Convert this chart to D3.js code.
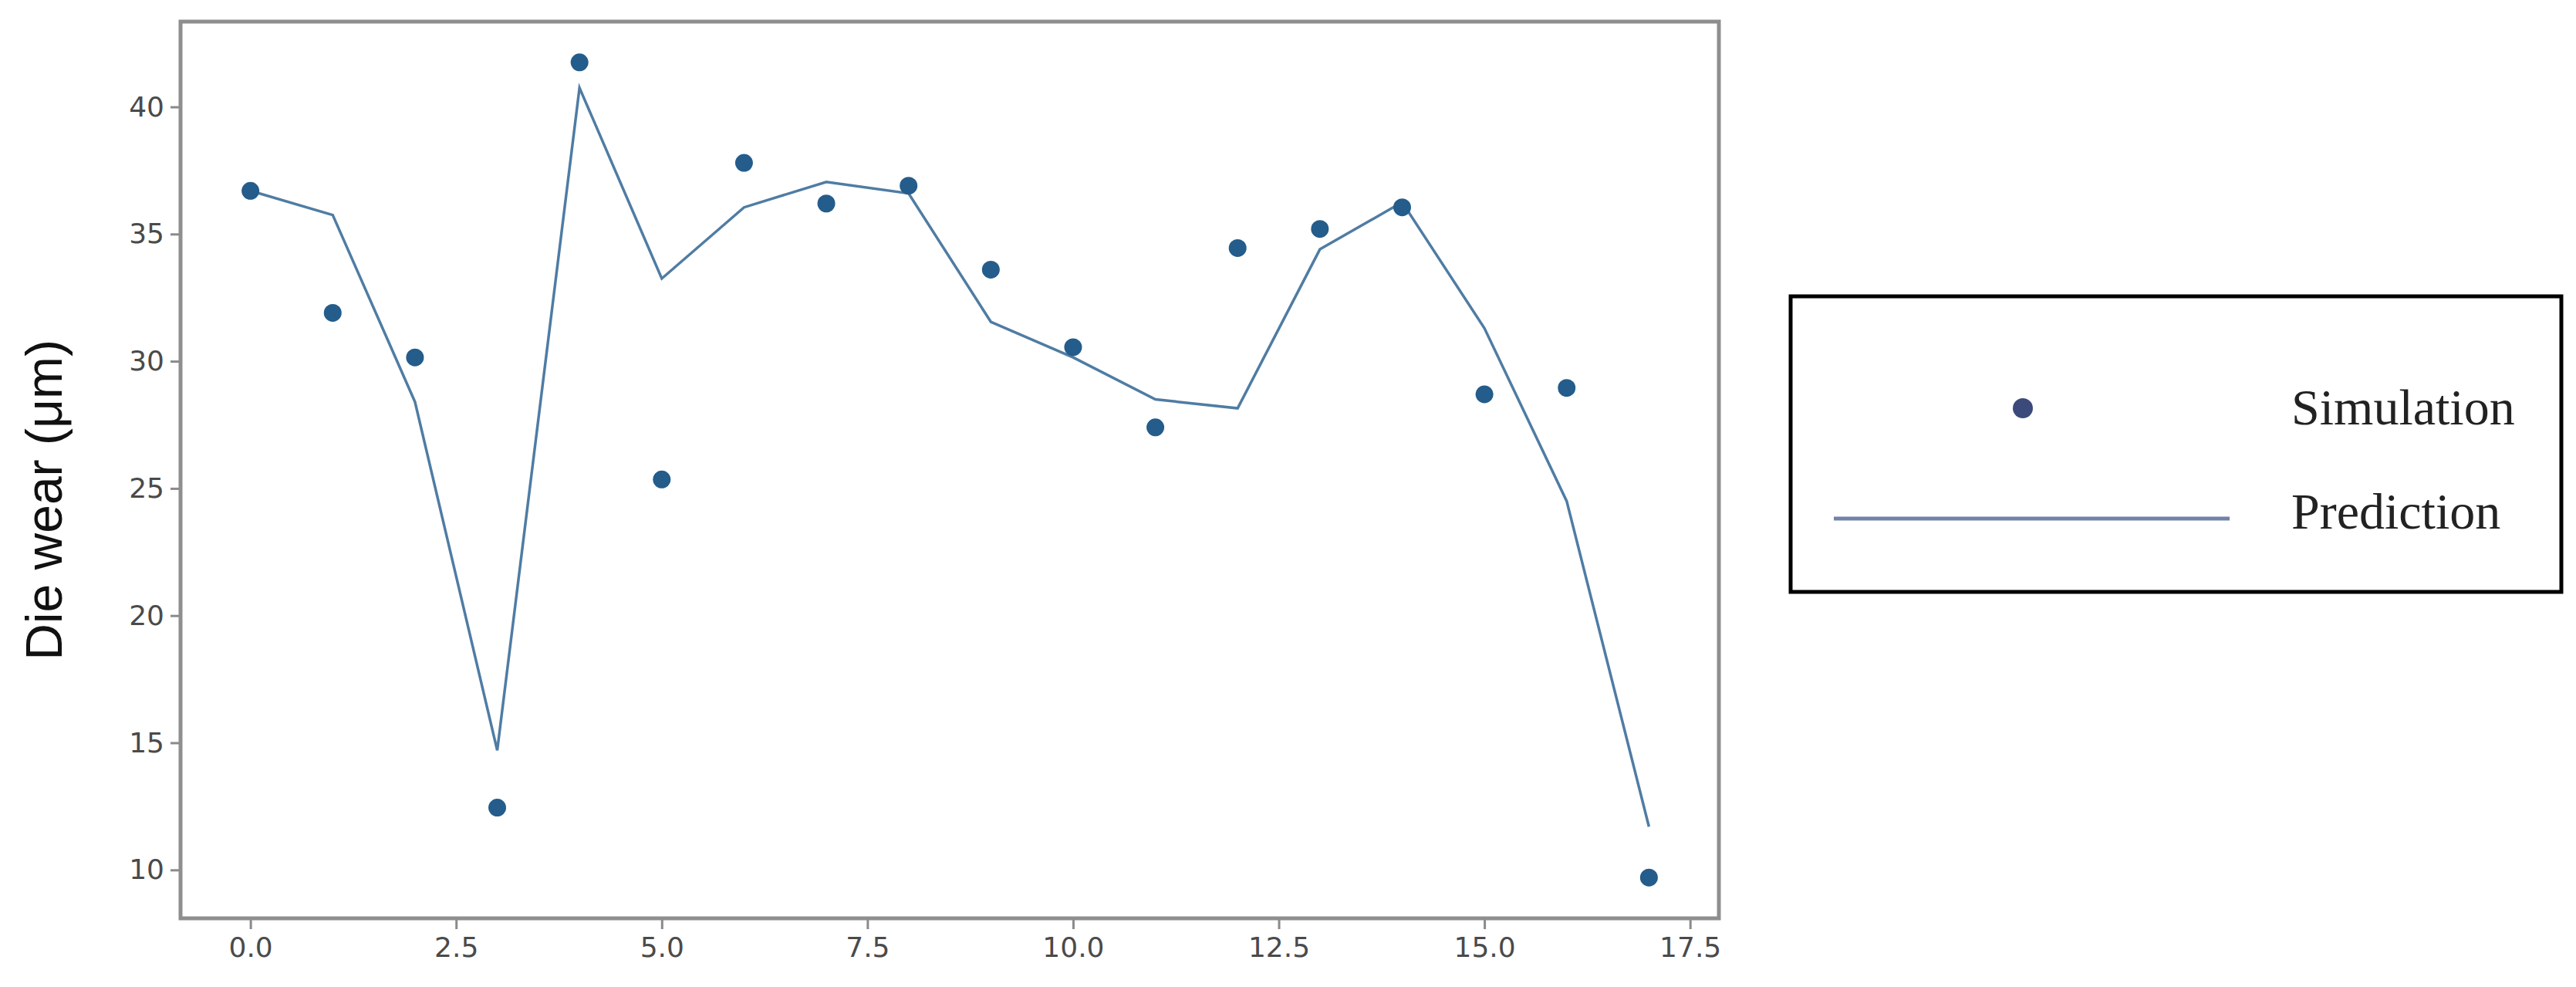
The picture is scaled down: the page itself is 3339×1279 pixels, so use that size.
<!DOCTYPE html>
<html>
<head>
<meta charset="utf-8">
<script src="https://cdn.jsdelivr.net/npm/d3@7"></script>
<style>
  body { margin: 0; background: #fff; }
  svg { display: block; }
</style>
</head>
<body>
<div id="chart"></div>
<script>
// step index along x
const steps = d3.range(0, 18);
// simulated die wear (points)
const simulation = [36.7, 31.9, 30.15, 12.45, 41.75, 25.35, 37.8, 36.2, 36.9, 33.6, 30.55, 27.4, 34.45, 35.2, 36.05, 28.7, 28.95, 9.7];
// predicted die wear (line)
const prediction = [36.7, 35.75, 28.4, 14.7, 40.75, 33.25, 36.05, 37.05, 36.6, 31.55, 30.15, 28.5, 28.15, 34.4, 36.25, 31.3, 24.5, 11.7];
const xTicks = [0, 2.5, 5, 7.5, 10, 12.5, 15, 17.5];
const yTicks = [10, 15, 20, 25, 30, 35, 40];
const legendLabels = ["Simulation", "Prediction"];

const W = 3339, H = 1279;
const plot = {left: 234, right: 2228, top: 28, bottom: 1190};

const svg = d3.select("#chart").append("svg")
    .attr("width", W)
    .attr("height", H);

// matplotlib-like 5% margins
function padded(lo, hi) {
    const m = (hi - lo) * 0.05;
    return [lo - m, hi + m];
}

const xScale = d3.scaleLinear()
    .domain(padded(d3.min(steps), d3.max(steps)))
    .range([plot.left, plot.right]);

const allY = simulation.concat(prediction);
const yScale = d3.scaleLinear()
    .domain(padded(d3.min(allY), d3.max(allY)))
    .range([plot.bottom, plot.top]);

// axes
const xAxis = svg.append("g")
    .attr("transform", "translate(0," + plot.bottom + ")")
    .call(d3.axisBottom(xScale).tickValues(xTicks).tickFormat(d3.format(".1f")).tickSize(14).tickSizeOuter(0).tickPadding(10));

const yAxis = svg.append("g")
    .attr("transform", "translate(" + plot.left + ",0)")
    .call(d3.axisLeft(yScale).tickValues(yTicks).tickFormat(d3.format("d")).tickSize(13).tickSizeOuter(0).tickPadding(8));

[xAxis, yAxis].forEach(a => {
    a.select(".domain").remove();
    a.selectAll(".tick line").attr("stroke", "#8a8a8a").attr("stroke-width", 3);
    a.selectAll(".tick text")
        .attr("fill", "#4a4a4a")
        .style("font-family", "'DejaVu Sans', sans-serif")
        .style("font-size", "36px");
});

// frame
svg.append("rect")
    .attr("x", plot.left)
    .attr("y", plot.top)
    .attr("width", plot.right - plot.left)
    .attr("height", plot.bottom - plot.top)
    .attr("fill", "none")
    .attr("stroke", "#8e8e8e")
    .attr("stroke-width", 5);

// prediction line
const line = d3.line()
    .x((d, i) => xScale(steps[i]))
    .y(d => yScale(d));

svg.append("path")
    .datum(prediction)
    .attr("d", line)
    .attr("fill", "none")
    .attr("stroke", "#4f7ca3")
    .attr("stroke-width", 3.5);

// simulation points
svg.selectAll("circle.sim")
    .data(simulation)
    .enter().append("circle")
    .attr("class", "sim")
    .attr("cx", (d, i) => xScale(steps[i]))
    .attr("cy", d => yScale(d))
    .attr("r", 11.5)
    .attr("fill", "#245c8b");

// y label
svg.append("text")
    .attr("transform", "translate(80,648) rotate(-90)")
    .attr("text-anchor", "middle")
    .style("font-family", "'Liberation Sans', Arial, sans-serif")
    .style("font-size", "66px")
    .attr("fill", "#111")
    .text("Die wear (μm)");

// legend
const legend = svg.append("g");
legend.append("rect")
    .attr("x", 2321)
    .attr("y", 384)
    .attr("width", 999)
    .attr("height", 383)
    .attr("fill", "#fff")
    .attr("stroke", "#000")
    .attr("stroke-width", 5);

legend.append("circle")
    .attr("cx", 2622)
    .attr("cy", 529)
    .attr("r", 13)
    .attr("fill", "#3b4a7a");

legend.append("line")
    .attr("x1", 2377)
    .attr("x2", 2890)
    .attr("y1", 672)
    .attr("y2", 672)
    .attr("stroke", "#7282a8")
    .attr("stroke-width", 5);

legend.selectAll("text")
    .data(legendLabels)
    .enter().append("text")
    .attr("x", 2970)
    .attr("y", (d, i) => i === 0 ? 550 : 685)
    .style("font-family", "'Liberation Serif', 'Times New Roman', serif")
    .style("font-size", "66px")
    .attr("fill", "#222")
    .text(d => d);
</script>
</body>
</html>
